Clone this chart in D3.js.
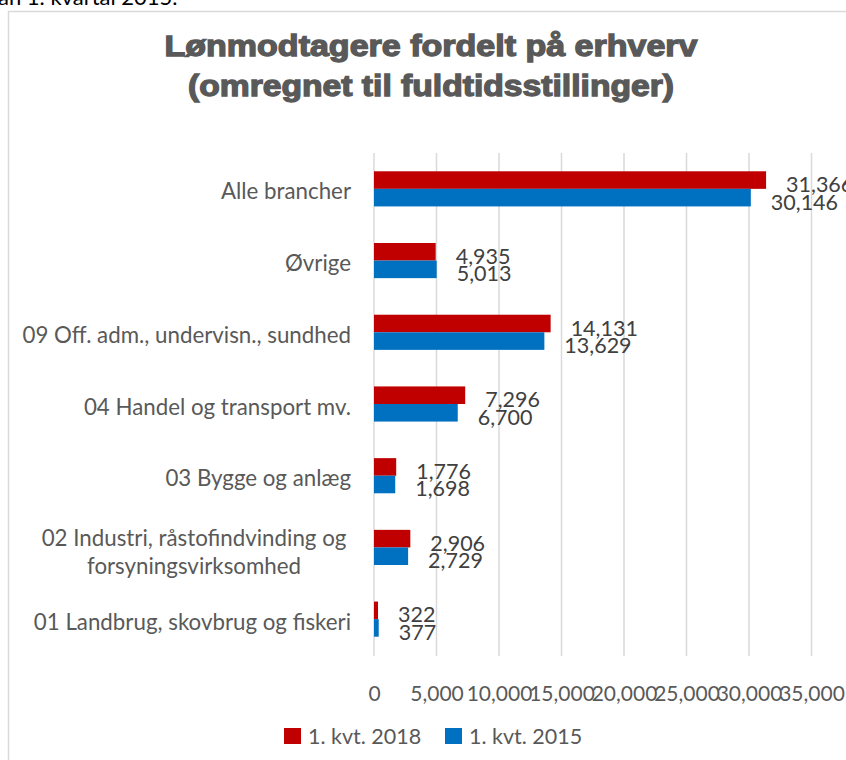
<!DOCTYPE html>
<html>
<head>
<meta charset="utf-8">
<script src="https://cdn.jsdelivr.net/npm/d3@7"></script>
<style>
  body { margin: 0; background: #fff; }
  svg { display: block; }
</style>
</head>
<body>
<div id="chart"></div>
<script>
// categories top to bottom, as shown in the chart
var categories = [
	"Alle brancher",
	"Øvrige",
	"09 Off. adm., undervisn., sundhed",
	"04 Handel og transport mv.",
	"03 Bygge og anlæg",
	"02 Industri, råstofindvinding og\nforsyningsvirksomhed",
	"01 Landbrug, skovbrug og fiskeri"
];
var series = ["1. kvt. 2018", "1. kvt. 2015"];
var values2018 = [31366, 4935, 14131, 7296, 1776, 2906, 322];
var values2015 = [30146, 5013, 13629, 6700, 1698, 2729, 377];
var xTicks = [0, 5000, 10000, 15000, 20000, 25000, 30000, 35000];
var colors = ["#c00000", "#0070c0"];

var width = 846, height = 760;
var font = "Lato, 'Open Sans', sans-serif";

var svg = d3.select("#chart").append("svg")
	.attr("width", width)
	.attr("height", height);

svg.append("rect").attr("width", width).attr("height", height).attr("fill", "#fff");

// text of the document above the chart, cut by the page top
svg.append("text")
	.attr("x", -2).attr("y", 5)
	.attr("font-family", "Lato, sans-serif")
	.attr("font-size", 22)
	.attr("fill", "#000")
	.text("an 1. kvartal 2015.");

// chart frame (runs off the page on the right and bottom)
svg.append("rect")
	.attr("x", 8.5).attr("y", 11.5)
	.attr("width", 900).attr("height", 800)
	.attr("fill", "#fff")
	.attr("stroke", "#d9d9d9")
	.attr("stroke-width", 1.5);

// title
var titleLines = [
	{ t: "Lønmodtagere fordelt på erhverv", y: 56, len: 533 },
	{ t: "(omregnet til fuldtidsstillinger)", y: 96, len: 486 }
];
svg.selectAll(".title").data(titleLines).enter().append("text")
	.attr("class", "title")
	.attr("x", 431)
	.attr("y", function (d) { return d.y; })
	.attr("text-anchor", "middle")
	.attr("font-family", "'Liberation Sans', Arial, sans-serif")
	.attr("font-weight", "bold")
	.attr("font-size", 29)
	.attr("fill", "#595959")
	.attr("stroke", "#595959")
	.attr("stroke-width", 1.3)
	.attr("textLength", function (d) { return d.len; })
	.attr("lengthAdjust", "spacingAndGlyphs")
	.text(function (d) { return d.t; });

// scales
var x = d3.scaleLinear()
	.domain([0, 40000])
	.range([374, 874]);

var y0 = d3.scaleBand()
	.domain(categories)
	.range([153, 655])
	.paddingInner(0.51)
	.paddingOuter(0.255);

var y1 = d3.scaleBand()
	.domain(series)
	.range([0, y0.bandwidth()]);

// gridlines
svg.append("g")
	.selectAll("line")
	.data(xTicks)
	.enter().append("line")
	.attr("x1", function (d) { return x(d); })
	.attr("x2", function (d) { return x(d); })
	.attr("y1", 153)
	.attr("y2", 656)
	.attr("stroke", "#d9d9d9")
	.attr("stroke-width", 1.5);

// x axis tick labels
var xAxis = svg.append("g")
	.attr("transform", "translate(0,656)")
	.call(d3.axisBottom(x).tickValues(xTicks).tickSize(0).tickPadding(0).tickFormat(d3.format(",")));
xAxis.select(".domain").remove();
xAxis.selectAll("text")
	.attr("y", 45)
	.attr("dy", 0)
	.attr("font-family", font)
	.attr("font-size", 21)
	.attr("fill", "#595959");

// category labels (multi-line ones are centred as a block)
var catG = svg.append("g");
categories.forEach(function (c) {
	var lines = c.split("\n");
	var cy = y0(c) + y0.bandwidth() / 2;
	var t = catG.append("text")
		.attr("font-family", font)
		.attr("font-size", 22.3)
		.attr("fill", "#595959");
	if (lines.length == 1) {
		t.attr("x", 351).attr("y", cy + 10.5).attr("text-anchor", "end").text(c);
	} else {
		lines.forEach(function (l, i) {
			t.append("tspan")
				.attr("x", 194)
				.attr("text-anchor", "middle")
				.attr("y", cy + (i - 0.5) * 28 + 13)
				.text(l);
		});
	}
});

// bars
var rows = categories.map(function (c, i) {
	return { cat: c, vals: [values2018[i], values2015[i]] };
});

var groups = svg.append("g").selectAll("g")
	.data(rows)
	.enter().append("g")
	.attr("transform", function (d) { return "translate(0," + y0(d.cat) + ")"; });

groups.selectAll("rect")
	.data(function (d) { return d.vals.map(function (v, j) { return { s: series[j], v: v, j: j }; }); })
	.enter().append("rect")
	.attr("x", x(0))
	.attr("y", function (d) { return y1(d.s); })
	.attr("width", function (d) { return x(d.v) - x(0); })
	.attr("height", y1.bandwidth())
	.attr("fill", function (d) { return colors[d.j]; });

// value labels
groups.selectAll("text")
	.data(function (d) { return d.vals.map(function (v, j) { return { s: series[j], v: v, j: j }; }); })
	.enter().append("text")
	.attr("x", function (d) { return x(d.v) + 20; })
	.attr("y", function (d) { return y1(d.s) + y1.bandwidth() / 2 + 12; })
	.attr("font-family", font)
	.attr("font-size", 21.5)
	.attr("fill", "#404040")
	.text(function (d) { return d3.format(",")(d.v); });

// legend
var legend = svg.append("g").selectAll("g")
	.data(series)
	.enter().append("g")
	.attr("transform", function (d, i) { return "translate(" + [284, 445][i] + ",728)"; });
legend.append("rect")
	.attr("width", 17).attr("height", 16)
	.attr("fill", function (d, i) { return colors[i]; });
legend.append("text")
	.attr("x", 24).attr("y", 16)
	.attr("font-family", font)
	.attr("font-size", 21.5)
	.attr("fill", "#595959")
	.text(function (d) { return d; });
</script>
</body>
</html>
